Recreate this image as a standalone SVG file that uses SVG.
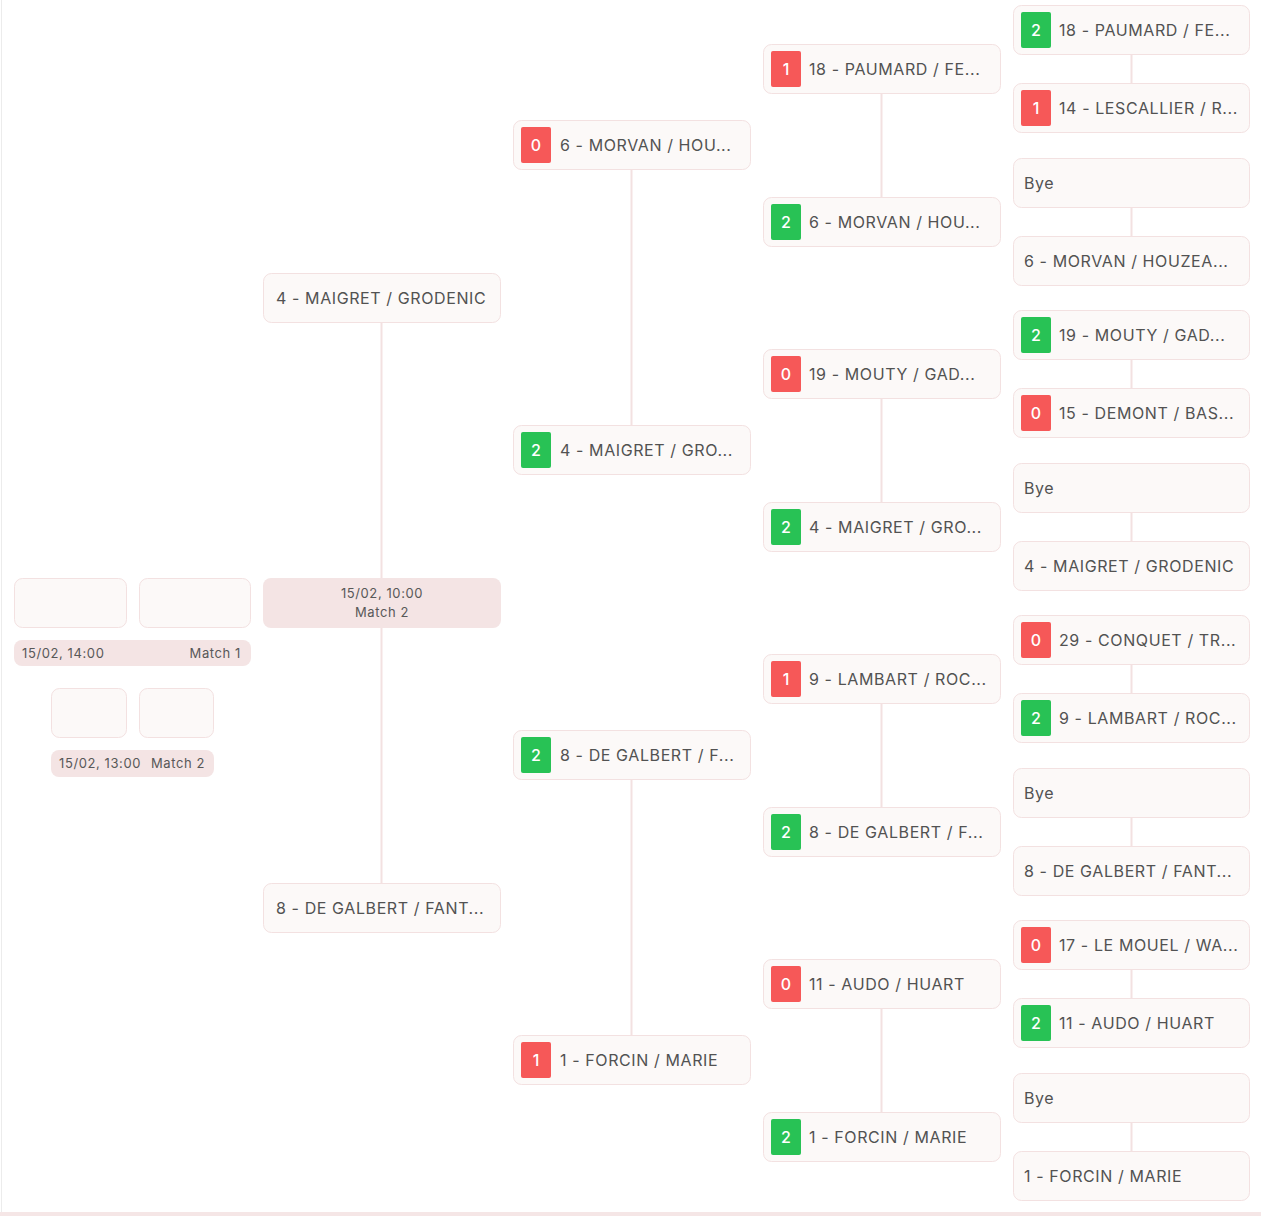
<svg xmlns="http://www.w3.org/2000/svg" width="1261" height="1216" viewBox="0 0 1261 1216">
<style>
.box{fill:#fcf9f8;stroke:#f3e1e1;stroke-width:1}
.bar{fill:#f4e4e4}
.ln{stroke:#f3e1e1;stroke-width:2;fill:none}
.t{font-family:Inter,"Noto Sans","Liberation Sans",sans-serif;font-size:16px;fill:#525252;letter-spacing:0.6px}
.s{font-family:Inter,"Noto Sans","Liberation Sans",sans-serif;font-size:13px;fill:#585858;letter-spacing:0.6px}
.bt{font-family:Inter,"Noto Sans","Liberation Sans",sans-serif;font-size:16px;fill:#fff;font-weight:500;text-anchor:middle}
.r{fill:#f65858}
.g{fill:#28c255}
</style>
<rect x="0" y="0" width="1261" height="1216" fill="#fff"/>
<line x1="1.5" y1="0" x2="1.5" y2="1212" stroke="#ececec" stroke-width="1"/>
<rect x="0" y="1212" width="1261" height="4" fill="#f5e6e6"/>
<g id="connectors">
<line class="ln" x1="381.5" y1="322.5" x2="381.5" y2="578.5"/>
<line class="ln" x1="381.5" y1="627.5" x2="381.5" y2="883.5"/>
<line class="ln" x1="631.5" y1="169.5" x2="631.5" y2="425.5"/>
<line class="ln" x1="631.5" y1="779.5" x2="631.5" y2="1035.5"/>
<line class="ln" x1="881.5" y1="93.5" x2="881.5" y2="197"/>
<line class="ln" x1="881.5" y1="398.5" x2="881.5" y2="502"/>
<line class="ln" x1="881.5" y1="703.5" x2="881.5" y2="807"/>
<line class="ln" x1="881.5" y1="1008.5" x2="881.5" y2="1112"/>
<line class="ln" x1="1131.5" y1="54.5" x2="1131.5" y2="83.5"/>
<line class="ln" x1="1131.5" y1="207" x2="1131.5" y2="236"/>
<line class="ln" x1="1131.5" y1="359.5" x2="1131.5" y2="388.5"/>
<line class="ln" x1="1131.5" y1="512" x2="1131.5" y2="541"/>
<line class="ln" x1="1131.5" y1="664.5" x2="1131.5" y2="693.5"/>
<line class="ln" x1="1131.5" y1="817" x2="1131.5" y2="846"/>
<line class="ln" x1="1131.5" y1="969.5" x2="1131.5" y2="998.5"/>
<line class="ln" x1="1131.5" y1="1122" x2="1131.5" y2="1151"/>
</g>
<g id="left-match1">
<rect class="box" x="14.5" y="578.5" width="112" height="49" rx="8"/>
<rect class="box" x="139.5" y="578.5" width="111" height="49" rx="8"/>
<rect class="bar" x="14" y="640" width="237" height="26" rx="8"/>
<text class="s" x="22" y="657.5">15/02, 14:00</text>
<text class="s" x="241" y="657.5" text-anchor="end">Match 1</text>
</g>
<g id="left-match2">
<rect class="box" x="51.5" y="688.5" width="75" height="49" rx="8"/>
<rect class="box" x="139.5" y="688.5" width="74" height="49" rx="8"/>
<rect class="bar" x="51" y="750" width="163" height="27" rx="8"/>
<text class="s" x="59" y="767.5">15/02, 13:00</text>
<text class="s" x="205" y="767.5" text-anchor="end">Match 2</text>
</g>
<g id="c1-match">
<rect x="263" y="578" width="238" height="50" rx="8" fill="#f4e4e4"/>
<text class="s" x="382" y="597.5" text-anchor="middle">15/02, 10:00</text>
<text class="s" x="382" y="617" text-anchor="middle">Match 2</text>
</g>
<g id="c1-a"><rect class="box" x="263.5" y="273.5" width="237" height="49" rx="8"/><text class="t" x="276" y="304">4 - MAIGRET / GRODENIC</text></g>
<g id="c1-b"><rect class="box" x="263.5" y="883.5" width="237" height="49" rx="8"/><text class="t" x="276" y="914">8 - DE GALBERT / FANT...</text></g>

<g id="c2-a"><rect class="box" x="513.5" y="120.5" width="237" height="49" rx="8"/><rect class="r" x="521" y="127" width="30" height="36" rx="2"/><text class="bt" x="536" y="151">0</text><text class="t" x="560" y="151">6 - MORVAN / HOU...</text></g>
<g id="c2-b"><rect class="box" x="513.5" y="425.5" width="237" height="49" rx="8"/><rect class="g" x="521" y="432" width="30" height="36" rx="2"/><text class="bt" x="536" y="456">2</text><text class="t" x="560" y="456">4 - MAIGRET / GRO...</text></g>
<g id="c2-c"><rect class="box" x="513.5" y="730.5" width="237" height="49" rx="8"/><rect class="g" x="521" y="737" width="30" height="36" rx="2"/><text class="bt" x="536" y="761">2</text><text class="t" x="560" y="761">8 - DE GALBERT / F...</text></g>
<g id="c2-d"><rect class="box" x="513.5" y="1035.5" width="237" height="49" rx="8"/><rect class="r" x="521" y="1042" width="30" height="36" rx="2"/><text class="bt" x="536" y="1066">1</text><text class="t" x="560" y="1066">1 - FORCIN / MARIE</text></g>

<g id="c3-a"><rect class="box" x="763.5" y="44.5" width="237" height="49" rx="8"/><rect class="r" x="771" y="51" width="30" height="36" rx="2"/><text class="bt" x="786" y="75">1</text><text class="t" x="809" y="75">18 - PAUMARD / FE...</text></g>
<g id="c3-b"><rect class="box" x="763.5" y="197.5" width="237" height="49" rx="8"/><rect class="g" x="771" y="204" width="30" height="36" rx="2"/><text class="bt" x="786" y="228">2</text><text class="t" x="809" y="228">6 - MORVAN / HOU...</text></g>
<g id="c3-c"><rect class="box" x="763.5" y="349.5" width="237" height="49" rx="8"/><rect class="r" x="771" y="356" width="30" height="36" rx="2"/><text class="bt" x="786" y="380">0</text><text class="t" x="809" y="380">19 - MOUTY / GAD...</text></g>
<g id="c3-d"><rect class="box" x="763.5" y="502.5" width="237" height="49" rx="8"/><rect class="g" x="771" y="509" width="30" height="36" rx="2"/><text class="bt" x="786" y="533">2</text><text class="t" x="809" y="533">4 - MAIGRET / GRO...</text></g>
<g id="c3-e"><rect class="box" x="763.5" y="654.5" width="237" height="49" rx="8"/><rect class="r" x="771" y="661" width="30" height="36" rx="2"/><text class="bt" x="786" y="685">1</text><text class="t" x="809" y="685">9 - LAMBART / ROC...</text></g>
<g id="c3-f"><rect class="box" x="763.5" y="807.5" width="237" height="49" rx="8"/><rect class="g" x="771" y="814" width="30" height="36" rx="2"/><text class="bt" x="786" y="838">2</text><text class="t" x="809" y="838">8 - DE GALBERT / F...</text></g>
<g id="c3-g"><rect class="box" x="763.5" y="959.5" width="237" height="49" rx="8"/><rect class="r" x="771" y="966" width="30" height="36" rx="2"/><text class="bt" x="786" y="990">0</text><text class="t" x="809" y="990">11 - AUDO / HUART</text></g>
<g id="c3-h"><rect class="box" x="763.5" y="1112.5" width="237" height="49" rx="8"/><rect class="g" x="771" y="1119" width="30" height="36" rx="2"/><text class="bt" x="786" y="1143">2</text><text class="t" x="809" y="1143">1 - FORCIN / MARIE</text></g>

<g id="c4-1"><rect class="box" x="1013.5" y="5.5" width="236" height="49" rx="8"/><rect class="g" x="1021" y="12" width="30" height="36" rx="2"/><text class="bt" x="1036" y="36">2</text><text class="t" x="1059" y="36">18 - PAUMARD / FE...</text></g>
<g id="c4-2"><rect class="box" x="1013.5" y="83.5" width="236" height="49" rx="8"/><rect class="r" x="1021" y="90" width="30" height="36" rx="2"/><text class="bt" x="1036" y="114">1</text><text class="t" x="1059" y="114">14 - LESCALLIER / R...</text></g>
<g id="c4-3"><rect class="box" x="1013.5" y="158.5" width="236" height="49" rx="8"/><text class="t" x="1024" y="189">Bye</text></g>
<g id="c4-4"><rect class="box" x="1013.5" y="236.5" width="236" height="49" rx="8"/><text class="t" x="1024" y="267">6 - MORVAN / HOUZEA...</text></g>
<g id="c4-5"><rect class="box" x="1013.5" y="310.5" width="236" height="49" rx="8"/><rect class="g" x="1021" y="317" width="30" height="36" rx="2"/><text class="bt" x="1036" y="341">2</text><text class="t" x="1059" y="341">19 - MOUTY / GAD...</text></g>
<g id="c4-6"><rect class="box" x="1013.5" y="388.5" width="236" height="49" rx="8"/><rect class="r" x="1021" y="395" width="30" height="36" rx="2"/><text class="bt" x="1036" y="419">0</text><text class="t" x="1059" y="419">15 - DEMONT / BAS...</text></g>
<g id="c4-7"><rect class="box" x="1013.5" y="463.5" width="236" height="49" rx="8"/><text class="t" x="1024" y="494">Bye</text></g>
<g id="c4-8"><rect class="box" x="1013.5" y="541.5" width="236" height="49" rx="8"/><text class="t" x="1024" y="572">4 - MAIGRET / GRODENIC</text></g>
<g id="c4-9"><rect class="box" x="1013.5" y="615.5" width="236" height="49" rx="8"/><rect class="r" x="1021" y="622" width="30" height="36" rx="2"/><text class="bt" x="1036" y="646">0</text><text class="t" x="1059" y="646">29 - CONQUET / TR...</text></g>
<g id="c4-10"><rect class="box" x="1013.5" y="693.5" width="236" height="49" rx="8"/><rect class="g" x="1021" y="700" width="30" height="36" rx="2"/><text class="bt" x="1036" y="724">2</text><text class="t" x="1059" y="724">9 - LAMBART / ROC...</text></g>
<g id="c4-11"><rect class="box" x="1013.5" y="768.5" width="236" height="49" rx="8"/><text class="t" x="1024" y="799">Bye</text></g>
<g id="c4-12"><rect class="box" x="1013.5" y="846.5" width="236" height="49" rx="8"/><text class="t" x="1024" y="877">8 - DE GALBERT / FANT...</text></g>
<g id="c4-13"><rect class="box" x="1013.5" y="920.5" width="236" height="49" rx="8"/><rect class="r" x="1021" y="927" width="30" height="36" rx="2"/><text class="bt" x="1036" y="951">0</text><text class="t" x="1059" y="951">17 - LE MOUEL / WA...</text></g>
<g id="c4-14"><rect class="box" x="1013.5" y="998.5" width="236" height="49" rx="8"/><rect class="g" x="1021" y="1005" width="30" height="36" rx="2"/><text class="bt" x="1036" y="1029">2</text><text class="t" x="1059" y="1029">11 - AUDO / HUART</text></g>
<g id="c4-15"><rect class="box" x="1013.5" y="1073.5" width="236" height="49" rx="8"/><text class="t" x="1024" y="1104">Bye</text></g>
<g id="c4-16"><rect class="box" x="1013.5" y="1151.5" width="236" height="49" rx="8"/><text class="t" x="1024" y="1182">1 - FORCIN / MARIE</text></g>
</svg>
